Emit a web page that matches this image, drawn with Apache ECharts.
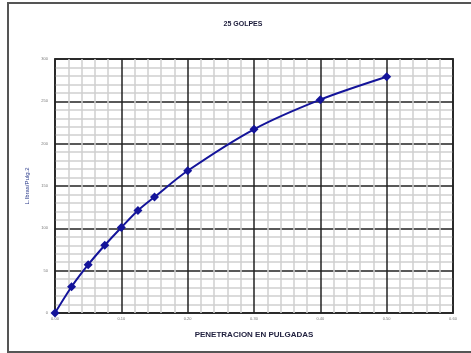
<!DOCTYPE html>
<html><head><meta charset="utf-8">
<script src="https://cdn.jsdelivr.net/npm/echarts@6/dist/echarts.min.js"></script>
<style>html,body{margin:0;padding:0;background:#fff}#c{width:471px;height:353px}</style>
</head><body><div id="c"></div>
<script>
var penetration = [0, 0.025, 0.05, 0.075, 0.1, 0.125, 0.15, 0.2, 0.3, 0.4, 0.5];
var pressure = [0, 31, 57, 80, 101, 121, 137, 168, 217, 252, 279];
var titleText = '25 GOLPES';
var xName = 'PENETRACION EN PULGADAS';
var yName = 'L.Ibras/Pulg.2';

var chart = echarts.init(document.getElementById('c'), null, {renderer: 'canvas'});
chart.setOption({
  animation: false,
  backgroundColor: '#fff',
  title: {
    text: titleText, left: 238, top: 16, textAlign: 'center',
    textStyle: {fontSize: 7, fontWeight: 'bold', color: '#1b1b3a', fontFamily: 'Liberation Sans'}
  },
  graphic: [{
    type: 'rect', shape: {x: 8, y: 3, width: 520, height: 349},
    style: {fill: 'none', stroke: '#555', lineWidth: 2}, z: -1
  }],
  grid: {left: 55, right: 18, top: 59, bottom: 40, show: true, borderColor: '#444', borderWidth: 2},
  xAxis: {
    type: 'value', min: 0, max: 0.6, interval: 0.1,
    name: xName, nameLocation: 'middle', nameGap: 18,
    nameTextStyle: {fontSize: 8, fontWeight: 'bold', color: '#222240', fontFamily: 'Liberation Sans'},
    axisLine: {show: false}, axisTick: {show: false},
    axisLabel: {fontSize: 4, color: '#777', margin: 4, formatter: function(v){return v.toFixed(2);}},
    splitLine: {show: true, lineStyle: {color: '#222', width: 1.5}},
    minorTick: {show: false, splitNumber: 5},
    minorSplitLine: {show: true, lineStyle: {color: '#d0d0d0', width: 1.5}}
  },
  yAxis: {
    type: 'value', min: 0, max: 300, interval: 50,
    name: yName, nameLocation: 'middle', nameGap: 16, nameRotate: 90,
    nameTextStyle: {fontSize: 6, color: '#2a3a8a', fontFamily: 'Liberation Sans'},
    axisLine: {show: false}, axisTick: {show: false},
    axisLabel: {fontSize: 4, color: '#777', margin: 7},
    splitLine: {show: true, lineStyle: {color: '#222', width: 1.5}},
    minorTick: {show: false, splitNumber: 5},
    minorSplitLine: {show: true, lineStyle: {color: '#d0d0d0', width: 1.5}}
  },
  series: [{
    type: 'line', smooth: 0.3,
    data: penetration.map(function(x, i){return [x, pressure[i]];}),
    symbol: 'diamond', symbolSize: 9,
    lineStyle: {color: '#14149a', width: 2},
    itemStyle: {color: '#14149a'}
  }]
});
</script></body></html>
